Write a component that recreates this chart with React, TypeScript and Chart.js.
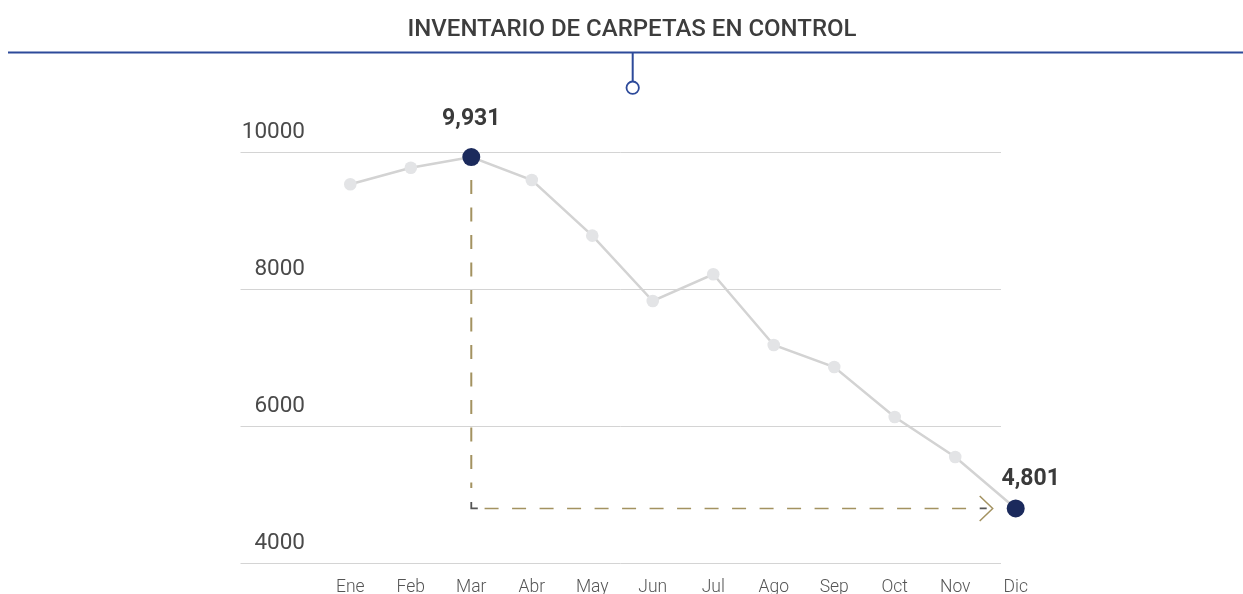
import { useEffect, useRef } from "react";
import { Chart, registerables } from "chart.js";

Chart.register(...registerables);

const TITLE = "INVENTARIO DE CARPETAS EN CONTROL";
const MONTHS = ["Ene", "Feb", "Mar", "Abr", "May", "Jun", "Jul", "Ago", "Sep", "Oct", "Nov", "Dic"];
const INVENTORY = [9533, 9775, 9931, 9596, 8783, 7829, 8219, 7187, 6866, 6136, 5552, 4801];
const Y_TICKS = [4000, 6000, 8000, 10000];
const HIGHLIGHT = [2, 11];

const W = 1243;
const H = 594;

const decor = {
  id: "decor",
  beforeDatasetsDraw(chart: any) {
    const { ctx, scales } = chart;
    const x = scales.x;
    const y = scales.y;
    ctx.save();

    // title
    ctx.font = "500 24px Roboto";
    ctx.fillStyle = "#3d3d3d";
    ctx.textAlign = "center";
    ctx.textBaseline = "alphabetic";
    ctx.fillText(TITLE, 632, 36);

    // top rule + connector
    ctx.strokeStyle = "#2D4A9A";
    ctx.lineWidth = 2;
    ctx.beginPath();
    ctx.moveTo(8, 52.5);
    ctx.lineTo(W, 52.5);
    ctx.moveTo(632.7, 52.5);
    ctx.lineTo(632.7, 81.5);
    ctx.stroke();
    ctx.beginPath();
    ctx.arc(632.7, 87.7, 6.2, 0, Math.PI * 2);
    ctx.fillStyle = "#ffffff";
    ctx.fill();
    ctx.lineWidth = 1.8;
    ctx.stroke();

    // grid lines + y labels
    ctx.font = "400 22.5px Roboto";
    ctx.textAlign = "right";
    y.ticks.forEach((t: any) => {
      const py = Math.round(y.getPixelForValue(t.value)) + 0.5;
      ctx.strokeStyle = "#d4d4d4";
      ctx.lineWidth = 1;
      ctx.beginPath();
      ctx.moveTo(240.5, py);
      ctx.lineTo(1001, py);
      ctx.stroke();
      ctx.fillStyle = "#4a4a4a";
      ctx.fillText(String(t.value), 305, py - 15);
    });

    // x labels
    ctx.font = "300 17.5px Roboto";
    ctx.fillStyle = "#555555";
    ctx.textAlign = "center";
    MONTHS.forEach((m, i) => {
      ctx.fillText(m, x.getPixelForValue(i), 591.5);
    });

    // dashed guides
    const i0 = HIGHLIGHT[0];
    const i1 = HIGHLIGHT[1];
    const x0 = x.getPixelForValue(i0);
    const y0 = y.getPixelForValue(INVENTORY[i0]);
    const x1 = x.getPixelForValue(i1);
    const y1 = y.getPixelForValue(INVENTORY[i1]);

    ctx.strokeStyle = "#A39260";
    ctx.lineWidth = 2;
    ctx.setLineDash([14, 13.5]);
    ctx.beginPath();
    ctx.moveTo(x0, y0 + 23);
    ctx.lineTo(x0, y1 - 20.5);
    ctx.stroke();
    ctx.lineWidth = 1.6;
    ctx.beginPath();
    ctx.moveTo(x0 + 13.3, y1);
    ctx.lineTo(x1 - 49, y1);
    ctx.stroke();
    ctx.setLineDash([]);

    ctx.strokeStyle = "#555555";
    ctx.lineWidth = 1.8;
    ctx.beginPath();
    ctx.moveTo(x0, y1 - 6.5);
    ctx.lineTo(x0, y1);
    ctx.lineTo(x0 + 6.5, y1);
    ctx.moveTo(x1 - 36, y1);
    ctx.lineTo(x1 - 29, y1);
    ctx.stroke();

    ctx.strokeStyle = "#A39260";
    ctx.lineWidth = 1.5;
    ctx.beginPath();
    ctx.moveTo(x1 - 36, y1 - 12.5);
    ctx.lineTo(x1 - 23, y1);
    ctx.lineTo(x1 - 36, y1 + 12.5);
    ctx.stroke();

    ctx.restore();
  },
  afterDatasetsDraw(chart: any) {
    const { ctx, scales } = chart;
    const x = scales.x;
    const y = scales.y;
    ctx.save();
    ctx.font = "bold 23px Roboto";
    ctx.fillStyle = "#3a3a3a";
    ctx.textAlign = "center";
    ctx.textBaseline = "alphabetic";
    const i0 = HIGHLIGHT[0];
    const i1 = HIGHLIGHT[1];
    ctx.fillText(
      INVENTORY[i0].toLocaleString("en-US"),
      x.getPixelForValue(i0),
      y.getPixelForValue(INVENTORY[i0]) - 32
    );
    ctx.fillText(
      INVENTORY[i1].toLocaleString("en-US"),
      x.getPixelForValue(i1) + 15,
      y.getPixelForValue(INVENTORY[i1]) - 23.5
    );
    ctx.restore();
  },
};

export default function App() {
  const ref = useRef<HTMLCanvasElement | null>(null);

  useEffect(() => {
    if (!ref.current) return;
    const pointColors = INVENTORY.map((_, i) => (HIGHLIGHT.includes(i) ? "#1B2A5C" : "#E3E4E6"));
    const pointRadii = INVENTORY.map((_, i) => (HIGHLIGHT.includes(i) ? 9 : 6.3));
    const chart = new Chart(ref.current, {
      type: "line",
      data: {
        labels: MONTHS,
        datasets: [
          {
            data: INVENTORY,
            borderColor: "#D3D3D3",
            borderWidth: 2.5,
            pointBackgroundColor: pointColors,
            pointBorderWidth: 0,
            pointRadius: pointRadii,
            pointHoverRadius: pointRadii,
            tension: 0,
            clip: false as any,
          },
        ],
      },
      options: {
        animation: false,
        responsive: false,
        events: [],
        layout: { padding: { top: 152.3, bottom: 30.7, left: 350.3, right: 227.3 } },
        plugins: { legend: { display: false }, tooltip: { enabled: false }, title: { display: false } },
        scales: {
          x: { display: false, offset: false },
          y: {
            display: false,
            min: 4000,
            max: 10000,
            afterBuildTicks: (scale: any) => {
              scale.ticks = Y_TICKS.map((v) => ({ value: v }));
            },
          },
        },
      },
      plugins: [decor],
    });
    if ((document as any).fonts && (document as any).fonts.ready) {
      (document as any).fonts.ready.then(() => chart.update());
    }
    return () => chart.destroy();
  }, []);

  return (
    <div style={{ position: "absolute", left: 0, top: 0, width: W, height: H }}>
      <canvas ref={ref} width={W} height={H} style={{ display: "block" }} />
    </div>
  );
}
